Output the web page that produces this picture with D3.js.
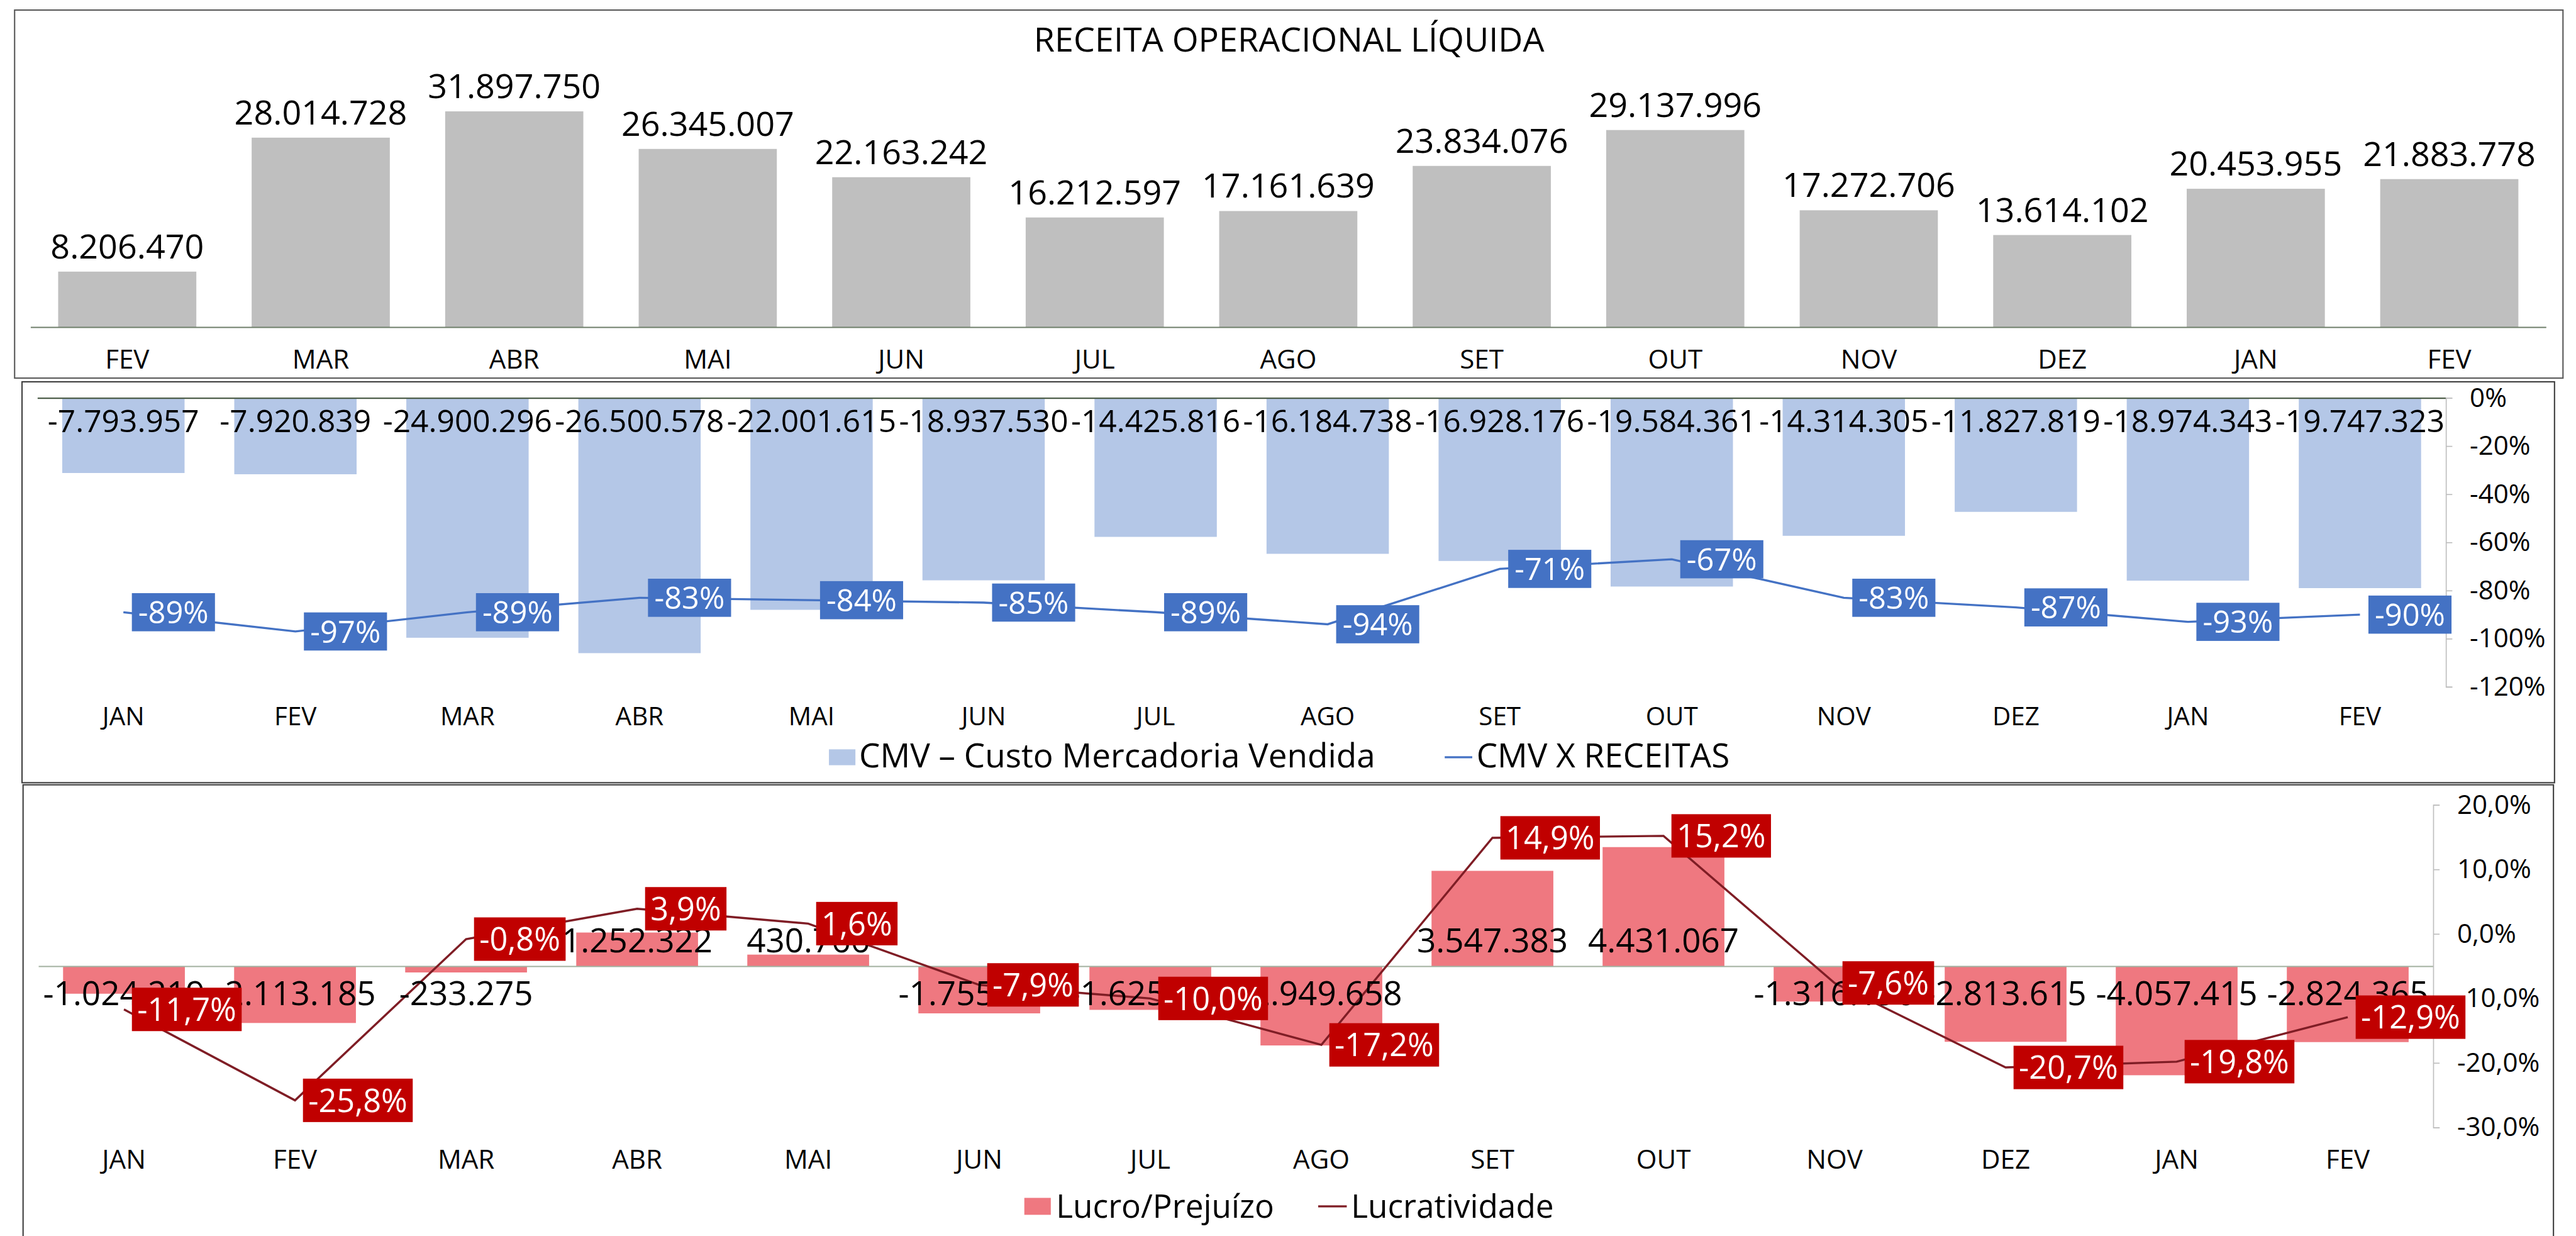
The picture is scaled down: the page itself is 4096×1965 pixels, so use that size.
<!DOCTYPE html>
<html>
<head>
<meta charset="utf-8">
<script src="https://cdn.jsdelivr.net/npm/d3@7"></script>
<style>
  body { margin: 0; background: #fff; }
  text { font-family: "Open Sans", sans-serif; }
</style>
</head>
<body>
<div id="chart"></div>
<script>
// Receita (FEV .. FEV)
const revMonths = ["FEV", "MAR", "ABR", "MAI", "JUN", "JUL", "AGO", "SET", "OUT", "NOV", "DEZ", "JAN", "FEV"];
const revenue = [8206470, 28014728, 31897750, 26345007, 22163242, 16212597, 17161639, 23834076, 29137996, 17272706, 13614102, 20453955, 21883778];

// CMV and Lucro (JAN .. FEV)
const months = ["JAN", "FEV", "MAR", "ABR", "MAI", "JUN", "JUL", "AGO", "SET", "OUT", "NOV", "DEZ", "JAN", "FEV"];
const cmv = [-7793957, -7920839, -24900296, -26500578, -22001615, -18937530, -14425816, -16184738, -16928176, -19584361, -14314305, -11827819, -18974343, -19747323];
const cmvPct = [-89, -97, -89, -83, -84, -85, -89, -94, -71, -67, -83, -87, -93, -90];
const lucro = [-1024219, -2113185, -233275, 1252322, 430766, -1755382, -1625204, -2949658, 3547383, 4431067, -1316190, -2813615, -4057415, -2824365];
const lucratividade = [-11.7, -25.8, -0.8, 3.9, 1.6, -7.9, -10.0, -17.2, 14.9, 15.2, -7.6, -20.7, -19.8, -12.9];

const cmvTicks = [0, -20, -40, -60, -80, -100, -120];
const lucTicks = [20, 10, 0, -10, -20, -30];

const ptBR = d3.formatLocale({ decimal: ",", thousands: ".", grouping: [3], currency: ["R$ ", ""], minus: "-" });
const fmtInt = ptBR.format(",.0f");
const fmtPct1 = v => ptBR.format(".1f")(v) + "%";

const svg = d3.select("#chart").append("svg")
    .attr("width", 4096)
    .attr("height", 1965)
    .attr("viewBox", "0 0 4864 2334");

// panel borders
svg.append("rect").attr("x", 27).attr("y", 19).attr("width", 4813).attr("height", 695)
    .attr("fill", "none").attr("stroke", "#595959").attr("stroke-width", 2.5);
svg.append("rect").attr("x", 41).attr("y", 721).attr("width", 4783).attr("height", 757)
    .attr("fill", "none").attr("stroke", "#404040").attr("stroke-width", 2.5);
svg.append("rect").attr("x", 43).attr("y", 1482).attr("width", 4779).attr("height", 900)
    .attr("fill", "none").attr("stroke", "#404040").attr("stroke-width", 2.5);

function styleCatAxis(a, color, size) {
    a.select(".domain").attr("stroke", color).attr("stroke-width", 2.5);
    a.selectAll("text").attr("fill", "#000").style("font-size", size + "px");
}

function drawValueAxis(g, scale, ticks, fmt, xPos) {
    g.append("g")
        .attr("transform", `translate(${xPos},0)`)
        .call(d3.axisRight(scale).tickValues(ticks).tickSize(12).tickPadding(33).tickFormat(fmt))
        .call(a => {
            a.select(".domain").attr("stroke", "#BFBFBF").attr("stroke-width", 2);
            a.selectAll(".tick line").attr("stroke", "#BFBFBF").attr("stroke-width", 2);
            a.selectAll("text").attr("fill", "#000").style("font-size", "50px");
        });
}

function drawBoxLabels(g, data, x, y, opts) {
    const boxes = g.append("g").selectAll("g")
        .data(data)
        .join("g")
            .attr("transform", (d, i) => `translate(${x(i) + opts.offset},${y(d)})`);
    boxes.append("rect");
    boxes.append("text")
        .attr("x", opts.pad)
        .attr("dy", "0.36em")
        .attr("fill", "#fff")
        .style("font-size", opts.size + "px")
        .text(opts.fmt);
    boxes.each(function () {
        const w = d3.select(this).select("text").node().getComputedTextLength();
        d3.select(this).select("rect")
            .attr("x", 0)
            .attr("y", -opts.h / 2)
            .attr("width", w + opts.pad * 2)
            .attr("height", opts.h)
            .attr("fill", opts.fill);
    });
}

function drawRevenue() {
    const g = svg.append("g");
    const x = d3.scaleBand().domain(d3.range(revMonths.length))
        .range([57, 4808]).paddingInner(0.286).paddingOuter(0.143);
    const y = d3.scaleLinear().domain([0, 35e6]).range([617.7, 170.7]);

    g.append("text")
        .attr("x", 2434).attr("y", 97)
        .attr("text-anchor", "middle")
        .style("font-size", "64px")
        .text("RECEITA OPERACIONAL LÍQUIDA");

    g.append("g").selectAll("rect")
        .data(revenue)
        .join("rect")
            .attr("x", (d, i) => x(i))
            .attr("width", x.bandwidth())
            .attr("y", d => y(d))
            .attr("height", d => y(0) - y(d))
            .attr("fill", "#BFBFBF");

    g.append("g")
        .attr("transform", `translate(0,${y(0)})`)
        .call(d3.axisBottom(x).tickSize(0).tickPadding(43).tickFormat(i => revMonths[i]))
        .call(a => styleCatAxis(a, "#6F7F6A", 50));

    g.append("g").selectAll("text")
        .data(revenue)
        .join("text")
            .attr("x", (d, i) => x(i) + x.bandwidth() / 2)
            .attr("y", d => y(d) - 25)
            .attr("text-anchor", "middle")
            .style("font-size", "64px")
            .text(fmtInt);
}

function drawCmv() {
    const g = svg.append("g");
    const x = d3.scaleBand().domain(d3.range(months.length))
        .range([70, 4619]).paddingInner(0.289).paddingOuter(0.1445);
    const cx = i => x(i) + x.bandwidth() / 2;
    const yV = d3.scaleLinear().domain([-30e6, 0]).range([1297, 751.5]);
    const yP = d3.scaleLinear().domain([-120, 0]).range([1297, 751.5]);

    g.append("g").selectAll("rect")
        .data(cmv)
        .join("rect")
            .attr("x", (d, i) => x(i))
            .attr("width", x.bandwidth())
            .attr("y", yV(0))
            .attr("height", d => yV(d) - yV(0))
            .attr("fill", "#B4C7E7");

    g.append("g")
        .attr("transform", `translate(0,${yV(0)})`)
        .call(d3.axisBottom(x).tickSize(0).tickPadding(583.5).tickFormat(i => months[i]))
        .call(a => styleCatAxis(a, "#4E5E4A", 48));

    drawValueAxis(g, yP, cmvTicks, d => d + "%", 4619);

    g.append("path")
        .datum(cmvPct)
        .attr("fill", "none")
        .attr("stroke", "#4472C4")
        .attr("stroke-width", 4)
        .attr("d", d3.line().x((d, i) => cx(i)).y(d => yP(d)));

    g.append("g").selectAll("text")
        .data(cmv)
        .join("text")
            .attr("x", (d, i) => cx(i))
            .attr("y", yV(0) + 64)
            .attr("text-anchor", "middle")
            .style("font-size", "59px")
            .text(fmtInt);

    drawBoxLabels(g, cmvPct, cx, yP, { offset: 16, pad: 12, h: 72, size: 58, fill: "#4472C4", fmt: d => d + "%" });

    // legend
    g.append("rect").attr("x", 1565).attr("y", 1415).attr("width", 50).attr("height", 30).attr("fill", "#B4C7E7");
    g.append("text").attr("x", 1622).attr("y", 1449).style("font-size", "63px").text("CMV – Custo Mercadoria Vendida");
    g.append("line").attr("x1", 2728).attr("x2", 2780).attr("y1", 1430).attr("y2", 1430)
        .attr("stroke", "#4472C4").attr("stroke-width", 4);
    g.append("text").attr("x", 2788).attr("y", 1449).style("font-size", "63px").text("CMV X RECEITAS");
}

function drawLucro() {
    const g = svg.append("g");
    const x = d3.scaleBand().domain(d3.range(months.length))
        .range([72, 4595]).paddingInner(0.288).paddingOuter(0.144);
    const cx = i => x(i) + x.bandwidth() / 2;
    const yV = d3.scaleLinear().domain([-6e6, 6e6]).range([2129, 1520]);
    const yP = d3.scaleLinear().domain([-30, 20]).range([2129, 1520]);

    g.append("g").selectAll("rect")
        .data(lucro)
        .join("rect")
            .attr("x", (d, i) => x(i))
            .attr("width", x.bandwidth())
            .attr("y", d => Math.min(yV(d), yV(0)))
            .attr("height", d => Math.abs(yV(d) - yV(0)))
            .attr("fill", "#EF7880");

    g.append("g")
        .attr("transform", `translate(0,${yV(0)})`)
        .call(d3.axisBottom(x).tickSize(0).tickPadding(346.5).tickFormat(i => months[i]))
        .call(a => styleCatAxis(a, "#A2B09F", 50));

    drawValueAxis(g, yP, lucTicks, fmtPct1, 4595);

    g.append("path")
        .datum(lucratividade)
        .attr("fill", "none")
        .attr("stroke", "#7F1D25")
        .attr("stroke-width", 4)
        .attr("d", d3.line().x((d, i) => cx(i)).y(d => yP(d)));

    g.append("g").selectAll("text")
        .data(lucro)
        .join("text")
            .attr("x", (d, i) => cx(i))
            .attr("y", d => d < 0 ? yV(0) + 74 : yV(0) - 26)
            .attr("text-anchor", "middle")
            .style("font-size", "63px")
            .text(fmtInt);

    drawBoxLabels(g, lucratividade, cx, yP, { offset: 15, pad: 10, h: 82, size: 60, fill: "#C00000", fmt: fmtPct1 });

    // legend
    g.append("rect").attr("x", 1934).attr("y", 2262).attr("width", 50).attr("height", 32).attr("fill", "#EF7880");
    g.append("text").attr("x", 1994).attr("y", 2299).style("font-size", "61px").text("Lucro/Prejuízo");
    g.append("line").attr("x1", 2489).attr("x2", 2543).attr("y1", 2278).attr("y2", 2278)
        .attr("stroke", "#7F1D25").attr("stroke-width", 4);
    g.append("text").attr("x", 2551).attr("y", 2299).style("font-size", "61px").text("Lucratividade");
}

document.addEventListener("DOMContentLoaded", function () {
    drawRevenue();
    drawCmv();
    drawLucro();
});
</script>
</body>
</html>
